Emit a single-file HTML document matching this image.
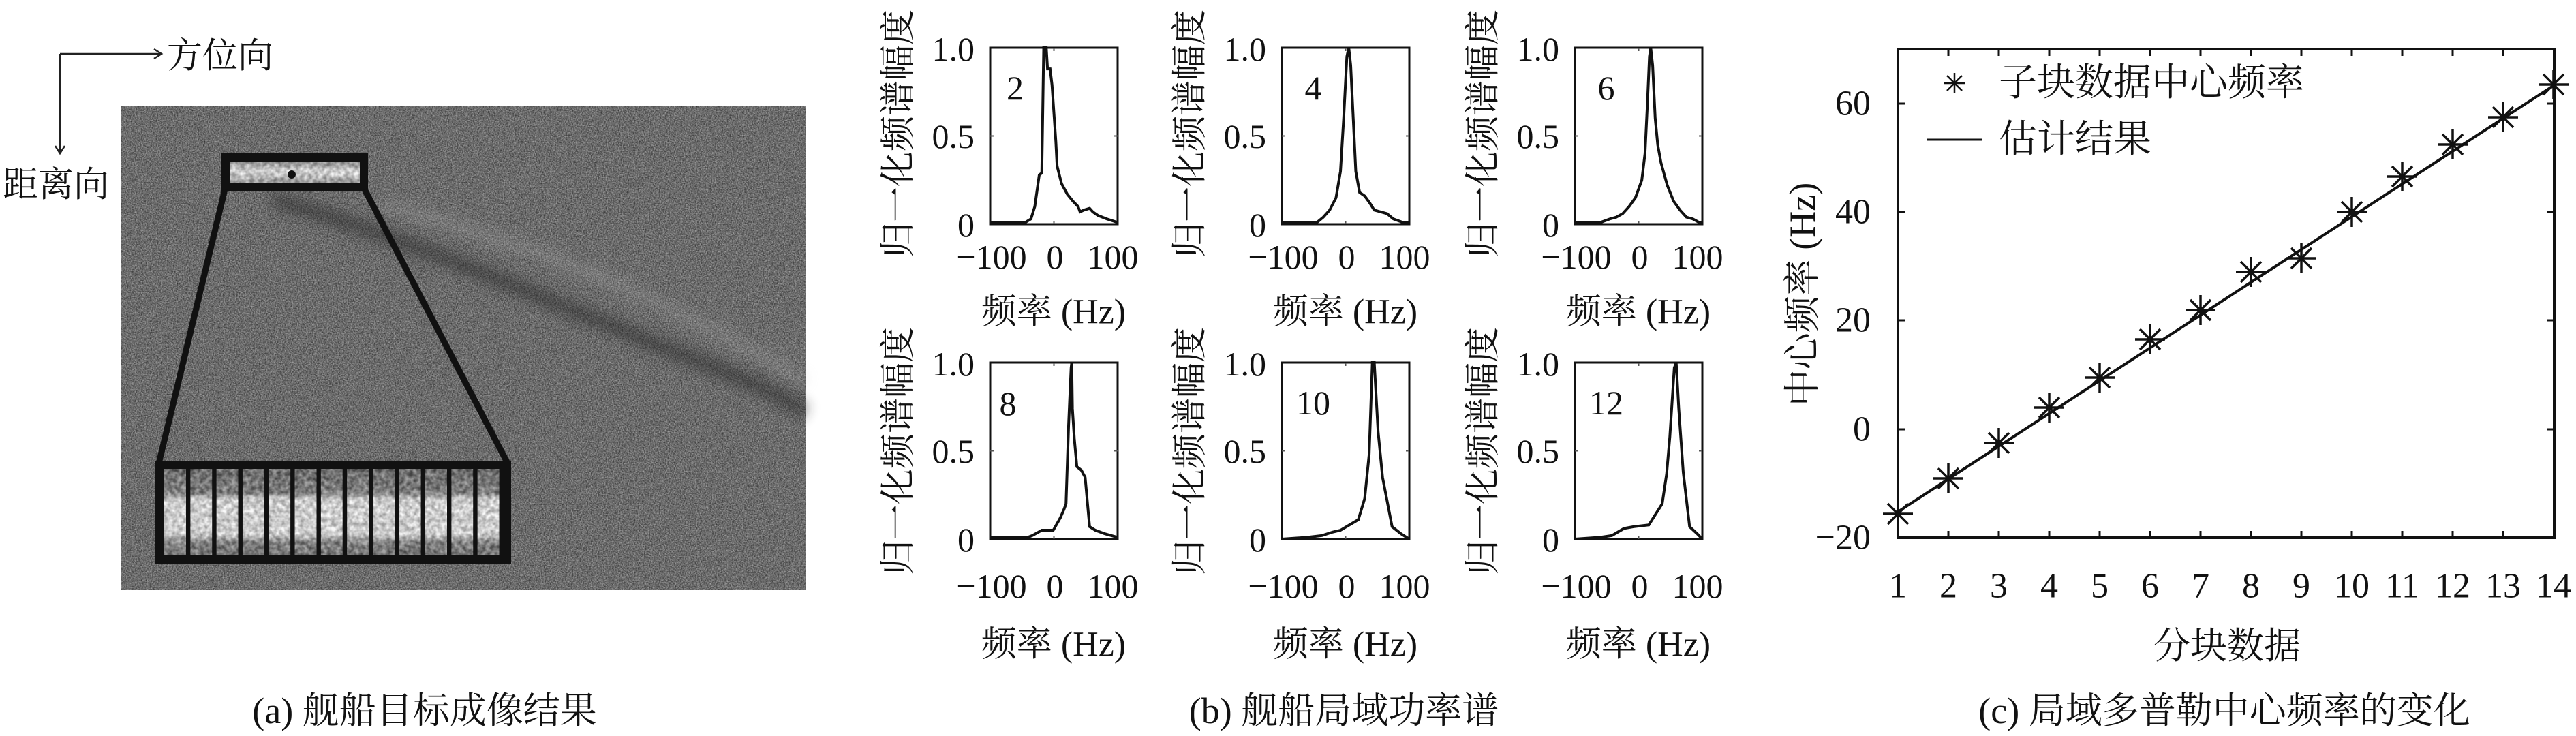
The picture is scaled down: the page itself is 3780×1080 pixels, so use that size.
<!DOCTYPE html>
<html><head><meta charset="utf-8"><style>
html,body{margin:0;padding:0;background:#fff;}
svg{display:block;}
text{font-family:"Liberation Serif","Noto Serif CJK SC",serif;fill:#111;}
</style></head><body>
<svg width="3780" height="1080" viewBox="0 0 3780 1080" xmlns="http://www.w3.org/2000/svg">
<defs>
<filter id="nz" x="0" y="0" width="100%" height="100%" color-interpolation-filters="sRGB">
<feTurbulence type="fractalNoise" baseFrequency="0.55" numOctaves="2" seed="3"/>
<feColorMatrix type="matrix" values="0.6 0 0 0 0.12  0.6 0 0 0 0.12  0.6 0 0 0 0.12  0 0 0 0 1"/>
</filter>
<filter id="nz2" x="0" y="0" width="100%" height="100%" color-interpolation-filters="sRGB">
<feTurbulence type="fractalNoise" baseFrequency="0.15" numOctaves="2" seed="7"/>
<feColorMatrix type="matrix" values="1.8 0 0 0 -0.4  1.8 0 0 0 -0.4  1.8 0 0 0 -0.4  0 0 0 0 0.35"/>
</filter>
<filter id="bl"><feGaussianBlur stdDeviation="9"/></filter>
<linearGradient id="sg" x1="0" y1="0" x2="0" y2="1">
<stop offset="0" stop-color="#606060"/><stop offset="0.28" stop-color="#808080"/>
<stop offset="0.36" stop-color="#f8f8f8"/><stop offset="0.75" stop-color="#f4f4f4"/>
<stop offset="0.85" stop-color="#858585"/><stop offset="1" stop-color="#6a6a6a"/>
</linearGradient>
<linearGradient id="sg2" x1="0" y1="0" x2="0" y2="1">
<stop offset="0" stop-color="#9a9a9a"/><stop offset="0.4" stop-color="#f4f4f4"/>
<stop offset="0.6" stop-color="#f0f0f0"/><stop offset="1" stop-color="#a0a0a0"/>
</linearGradient>
<clipPath id="strips"><rect x="241" y="688" width="498" height="127"/></clipPath>
<g id="ast"><path d="M-22 0H22M0 -22V22M-15 -15L15 15M-15 15L15 -15" stroke="#111" stroke-width="3.5" fill="none"/></g>
</defs>

<!-- Panel (a) -->
<line x1="88" y1="79" x2="236" y2="79" stroke="#222" stroke-width="2.5"/>
<path d="M226 72L237 79L226 86" stroke="#222" stroke-width="2.5" fill="none"/>
<line x1="88" y1="79" x2="88" y2="224" stroke="#222" stroke-width="2.5"/>
<path d="M81 214L88 225L95 214" stroke="#222" stroke-width="2.5" fill="none"/>
<text x="245" y="83" font-size="52" dominant-baseline="central">方位向</text>
<text x="4" y="272" font-size="52" dominant-baseline="central">距离向</text>

<rect x="177" y="156" width="1006" height="710" filter="url(#nz)"/>
<path d="M400 292 C600 350, 800 440, 1000 520 S1150 590, 1183 605" stroke="#222" stroke-width="24" fill="none" opacity="0.45" filter="url(#bl)"/>
<path d="M560 300 C750 350, 950 420, 1183 560" stroke="#bbb" stroke-width="16" fill="none" opacity="0.25" filter="url(#bl)"/>

<rect x="324" y="224" width="216" height="56" fill="#111"/>
<rect x="337" y="238" width="191" height="30" fill="url(#sg2)"/>
<rect x="337" y="238" width="191" height="30" filter="url(#nz2)"/>
<circle cx="428" cy="256" r="6" fill="#111"/>
<line x1="330" y1="278" x2="233" y2="680" stroke="#111" stroke-width="9"/>
<line x1="535" y1="278" x2="745" y2="680" stroke="#111" stroke-width="9"/>

<rect x="228" y="676" width="522" height="151" fill="#111"/>
<g clip-path="url(#strips)">
<g fill="url(#sg)">
<rect x="241" y="688" width="32" height="127"/><rect x="279.3" y="688" width="32" height="127"/>
<rect x="317.6" y="688" width="32" height="127"/><rect x="355.9" y="688" width="32" height="127"/>
<rect x="394.2" y="688" width="32" height="127"/><rect x="432.5" y="688" width="32" height="127"/>
<rect x="470.8" y="688" width="32" height="127"/><rect x="509.1" y="688" width="32" height="127"/>
<rect x="547.4" y="688" width="32" height="127"/><rect x="585.7" y="688" width="32" height="127"/>
<rect x="624" y="688" width="32" height="127"/><rect x="662.3" y="688" width="32" height="127"/>
<rect x="700.6" y="688" width="32" height="127"/>
</g>
<rect x="241" y="688" width="498" height="127" filter="url(#nz2)"/>
<g fill="#111">
<rect x="273" y="688" width="6.3" height="127"/><rect x="311.3" y="688" width="6.3" height="127"/>
<rect x="349.6" y="688" width="6.3" height="127"/><rect x="387.9" y="688" width="6.3" height="127"/>
<rect x="426.2" y="688" width="6.3" height="127"/><rect x="464.5" y="688" width="6.3" height="127"/>
<rect x="502.8" y="688" width="6.3" height="127"/><rect x="541.1" y="688" width="6.3" height="127"/>
<rect x="579.4" y="688" width="6.3" height="127"/><rect x="617.7" y="688" width="6.3" height="127"/>
<rect x="656" y="688" width="6.3" height="127"/><rect x="694.3" y="688" width="6.3" height="127"/>
<rect x="732.6" y="688" width="7" height="127"/>
</g>
</g>
<text x="623" y="1043" font-size="54" text-anchor="middle" dominant-baseline="central">(a) 舰船目标成像结果</text>

<!-- Panel (b) -->
<g font-size="50">
<g transform="translate(1453,70)">
<rect x="0" y="0" width="187" height="259" fill="none" stroke="#111" stroke-width="3"/>
<path d="M0 129.5h5M187 129.5h-5M93.5 0v5M93.5 259v-5" stroke="#555" stroke-width="2"/>
<svg x="0" y="0" width="187" height="259" viewBox="0 0 200 100" preserveAspectRatio="none" overflow="visible">
<polyline fill="none" stroke="#111" stroke-width="4" vector-effect="non-scaling-stroke" points="0,99 55,99 64,97 70,90 77,72 81,71 84,0 88,0 90,12 94,12 97,21 103,53 105,67 112,77 121,83 130,87 138,90 141,93 147,92 156,91 161,93 169,95 183,97 200,99"/>
</svg>
<text x="24" y="59" dominant-baseline="central">2</text>
</g>
<g transform="translate(1881,70)">
<rect x="0" y="0" width="187" height="259" fill="none" stroke="#111" stroke-width="3"/>
<path d="M0 129.5h5M187 129.5h-5M93.5 0v5M93.5 259v-5" stroke="#555" stroke-width="2"/>
<svg x="0" y="0" width="187" height="259" viewBox="0 0 200 100" preserveAspectRatio="none" overflow="visible">
<polyline fill="none" stroke="#111" stroke-width="4" vector-effect="non-scaling-stroke" points="0,99 55,99 65,96 75,92 85,85 92,70 97,40 102,5 105,0 108,10 112,40 116,70 122,82 130,84 138,88 145,92 155,93 165,94 175,97 190,99 200,99"/>
</svg>
<text x="46" y="59" text-anchor="middle" dominant-baseline="central">4</text>
</g>
<g transform="translate(2311,70)">
<rect x="0" y="0" width="187" height="259" fill="none" stroke="#111" stroke-width="3"/>
<path d="M0 129.5h5M187 129.5h-5M93.5 0v5M93.5 259v-5" stroke="#555" stroke-width="2"/>
<svg x="0" y="0" width="187" height="259" viewBox="0 0 200 100" preserveAspectRatio="none" overflow="visible">
<polyline fill="none" stroke="#111" stroke-width="4" vector-effect="non-scaling-stroke" points="0,99 40,99 55,97 65,96 75,94 85,90 95,85 105,75 110,60 114,30 117,5 119,0 122,10 126,40 130,55 135,65 145,78 155,87 165,92 175,96 185,97 195,99 200,99"/>
</svg>
<text x="46" y="59" text-anchor="middle" dominant-baseline="central">6</text>
</g>
<g transform="translate(1453,532)">
<rect x="0" y="0" width="187" height="259" fill="none" stroke="#111" stroke-width="3"/>
<path d="M0 129.5h5M187 129.5h-5M93.5 0v5M93.5 259v-5" stroke="#555" stroke-width="2"/>
<svg x="0" y="0" width="187" height="259" viewBox="0 0 200 100" preserveAspectRatio="none" overflow="visible">
<polyline fill="none" stroke="#111" stroke-width="4" vector-effect="non-scaling-stroke" points="0,99 59,99 66,98 81,95 95,95 99,95 110,88 116,83 119,80 123,36 125,19 127,3 128,0 129,26 132,43 136,59 143,61 149,65 152,77 156,93 165,95 180,97 200,99"/>
</svg>
<text x="26" y="60" text-anchor="middle" dominant-baseline="central">8</text>
</g>
<g transform="translate(1881,532)">
<rect x="0" y="0" width="187" height="259" fill="none" stroke="#111" stroke-width="3"/>
<path d="M0 129.5h5M187 129.5h-5M93.5 0v5M93.5 259v-5" stroke="#555" stroke-width="2"/>
<svg x="0" y="0" width="187" height="259" viewBox="0 0 200 100" preserveAspectRatio="none" overflow="visible">
<polyline fill="none" stroke="#111" stroke-width="4" vector-effect="non-scaling-stroke" points="0,100 40,99 63,98 80,96 92,95 106,92 120,89 130,77 137,52 142,0 145,0 151,39 158,65 173,93 187,97 200,100"/>
</svg>
<text x="46" y="59" text-anchor="middle" dominant-baseline="central">10</text>
</g>
<g transform="translate(2311,532)">
<rect x="0" y="0" width="187" height="259" fill="none" stroke="#111" stroke-width="3"/>
<path d="M0 129.5h5M187 129.5h-5M93.5 0v5M93.5 259v-5" stroke="#555" stroke-width="2"/>
<svg x="0" y="0" width="187" height="259" viewBox="0 0 200 100" preserveAspectRatio="none" overflow="visible">
<polyline fill="none" stroke="#111" stroke-width="4" vector-effect="non-scaling-stroke" points="0,100 40,99 58,98 77,94 92,93 116,92 130,84 137,80 144,63 149,42 156,3 159,0 163,26 170,62 180,93 192,97 200,100"/>
</svg>
<text x="46" y="59" text-anchor="middle" dominant-baseline="central">12</text>
</g>

<g text-anchor="end" dominant-baseline="central">
<text x="1430" y="72">1.0</text><text x="1430" y="200">0.5</text><text x="1430" y="330">0</text>
<text x="1858" y="72">1.0</text><text x="1858" y="200">0.5</text><text x="1858" y="330">0</text>
<text x="2288" y="72">1.0</text><text x="2288" y="200">0.5</text><text x="2288" y="330">0</text>
<text x="1430" y="534">1.0</text><text x="1430" y="662">0.5</text><text x="1430" y="792">0</text>
<text x="1858" y="534">1.0</text><text x="1858" y="662">0.5</text><text x="1858" y="792">0</text>
<text x="2288" y="534">1.0</text><text x="2288" y="662">0.5</text><text x="2288" y="792">0</text>
</g>
<g text-anchor="middle" dominant-baseline="central">
<text x="1455" y="377">−100</text><text x="1548" y="377">0</text><text x="1633" y="377">100</text>
<text x="1883" y="377">−100</text><text x="1976" y="377">0</text><text x="2061" y="377">100</text>
<text x="2313" y="377">−100</text><text x="2406" y="377">0</text><text x="2491" y="377">100</text>
<text x="1455" y="860">−100</text><text x="1548" y="860">0</text><text x="1633" y="860">100</text>
<text x="1883" y="860">−100</text><text x="1976" y="860">0</text><text x="2061" y="860">100</text>
<text x="2313" y="860">−100</text><text x="2406" y="860">0</text><text x="2491" y="860">100</text>
</g>
<g text-anchor="middle" dominant-baseline="central" font-size="52">
<text x="1546" y="458">频率 (Hz)</text><text x="1974" y="458">频率 (Hz)</text><text x="2404" y="458">频率 (Hz)</text>
<text x="1546" y="946">频率 (Hz)</text><text x="1974" y="946">频率 (Hz)</text><text x="2404" y="946">频率 (Hz)</text>
<text transform="translate(1319,196) rotate(-90)">归一化频谱幅度</text>
<text transform="translate(1747,196) rotate(-90)">归一化频谱幅度</text>
<text transform="translate(2177,196) rotate(-90)">归一化频谱幅度</text>
<text transform="translate(1319,662) rotate(-90)">归一化频谱幅度</text>
<text transform="translate(1747,662) rotate(-90)">归一化频谱幅度</text>
<text transform="translate(2177,662) rotate(-90)">归一化频谱幅度</text>
</g>
</g>
<text x="1972" y="1043" font-size="54" text-anchor="middle" dominant-baseline="central">(b) 舰船局域功率谱</text>

<!-- Panel (c) -->
<rect x="2785" y="72" width="963" height="717" fill="none" stroke="#111" stroke-width="4"/>
<path d="M2785 152h10M2785 311h10M2785 470h10M2785 630h10M3748 152h-10M3748 311h-10M3748 470h-10M3748 630h-10" stroke="#111" stroke-width="3"/>
<path d="M2859 789v-10M2933 789v-10M3007 789v-10M3081 789v-10M3155 789v-10M3229 789v-10M3303 789v-10M3377 789v-10M3451 789v-10M3525 789v-10M3599 789v-10M3673 789v-10M2859 72v10M2933 72v10M3007 72v10M3081 72v10M3155 72v10M3229 72v10M3303 72v10M3377 72v10M3451 72v10M3525 72v10M3599 72v10M3673 72v10" stroke="#111" stroke-width="3"/>
<g font-size="52" text-anchor="end" dominant-baseline="central">
<text x="2745" y="152">60</text><text x="2745" y="311">40</text><text x="2745" y="470">20</text>
<text x="2745" y="630">0</text><text x="2745" y="789">−20</text>
</g>
<g font-size="52" text-anchor="middle" dominant-baseline="central">
<text x="2785" y="860">1</text><text x="2859" y="860">2</text><text x="2933" y="860">3</text><text x="3007" y="860">4</text>
<text x="3081" y="860">5</text><text x="3155" y="860">6</text><text x="3229" y="860">7</text><text x="3303" y="860">8</text>
<text x="3377" y="860">9</text><text x="3451" y="860">10</text><text x="3525" y="860">11</text><text x="3599" y="860">12</text>
<text x="3673" y="860">13</text><text x="3747" y="860">14</text>
<text x="3268" y="948" font-size="54">分块数据</text>
<text transform="translate(2645,432) rotate(-90)" font-size="54">中心频率 (Hz)</text>
</g>
<line x1="2785" y1="751" x2="3748" y2="125" stroke="#111" stroke-width="4"/>
<use href="#ast" x="2785" y="754"/><use href="#ast" x="2859" y="702"/><use href="#ast" x="2933" y="650"/>
<use href="#ast" x="3007" y="598"/><use href="#ast" x="3081" y="554"/><use href="#ast" x="3155" y="498"/>
<use href="#ast" x="3229" y="455"/><use href="#ast" x="3303" y="399"/><use href="#ast" x="3377" y="379"/>
<use href="#ast" x="3451" y="311"/><use href="#ast" x="3525" y="259"/><use href="#ast" x="3599" y="212"/>
<use href="#ast" x="3673" y="172"/><use href="#ast" x="3747" y="124"/>
<path d="M2853 122h30M2868 107v30M2857 111l22 22M2857 133l22-22" stroke="#111" stroke-width="2.5"/>
<line x1="2827" y1="205" x2="2908" y2="205" stroke="#111" stroke-width="3"/>
<text x="2933" y="122" font-size="56" dominant-baseline="central">子块数据中心频率</text>
<text x="2933" y="205" font-size="56" dominant-baseline="central">估计结果</text>
<text x="3264" y="1043" font-size="54" text-anchor="middle" dominant-baseline="central">(c) 局域多普勒中心频率的变化</text>
</svg>
</body></html>
